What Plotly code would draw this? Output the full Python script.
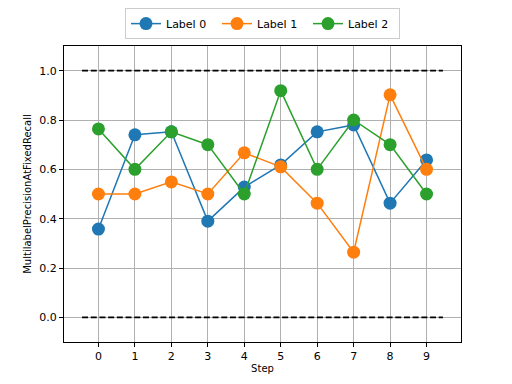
import plotly.graph_objects as go

steps = list(range(10))
label0 = [0.358, 0.74, 0.752, 0.39, 0.528, 0.618, 0.752, 0.78, 0.463, 0.638]
label1 = [0.5, 0.5, 0.549, 0.5, 0.667, 0.61, 0.463, 0.264, 0.902, 0.6]
label2 = [0.764, 0.6, 0.752, 0.7, 0.5, 0.919, 0.6, 0.8, 0.7, 0.5]
names = ["Label 0", "Label 1", "Label 2"]
colors = ["#1f77b4", "#ff7f0e", "#2ca02c"]
ref_x = [-0.45, 9.45]
ref_levels = [1.0, 0.0]

fig = go.Figure()
for lvl in ref_levels:
    fig.add_trace(go.Scatter(x=ref_x, y=[lvl, lvl], mode="lines",
                             line=dict(color="black", dash="6px,2.7px", width=1.7),
                             showlegend=False, hoverinfo="skip"))
for name, vals, c in zip(names, [label0, label1, label2], colors):
    fig.add_trace(go.Scatter(x=steps, y=vals, mode="lines+markers", name=name,
                             line=dict(color=c, width=1.5),
                             marker=dict(color=c, size=13)))

axis_common = dict(showline=True, linecolor="black", linewidth=1, mirror=True,
                   showgrid=True, gridcolor="#b0b0b0", gridwidth=0.8,
                   ticks="outside", ticklen=4, tickcolor="black", zeroline=False,
                   automargin=False,
                   tickfont=dict(size=11, color="black"))
fig.update_layout(
    width=504, height=376,
    margin=dict(l=56, r=51, t=38, b=42, autoexpand=False),
    plot_bgcolor="white", paper_bgcolor="white",
    font=dict(family="DejaVu Sans", size=11, color="black"),
    xaxis=dict(range=[-0.945, 9.945], tickmode="array", tickvals=steps,
               title=dict(text="Step", standoff=2, font=dict(size=10)), **axis_common),
    yaxis=dict(range=[-0.1, 1.1], tickmode="array",
               tickvals=[0.0, 0.2, 0.4, 0.6, 0.8, 1.0],
               ticktext=["0.0", "0.2", "0.4", "0.6", "0.8", "1.0"],
               title=dict(text="MultilabelPrecisionAtFixedRecall", standoff=5,
                          font=dict(size=10)), **axis_common),
    legend=dict(orientation="h", x=0.5, xanchor="center", y=1.128, yanchor="top",
                bordercolor="#cccccc", borderwidth=1, entrywidth=46,
                bgcolor="white", font=dict(size=11)),
    showlegend=True,
)
fig.write_html("out.html")
